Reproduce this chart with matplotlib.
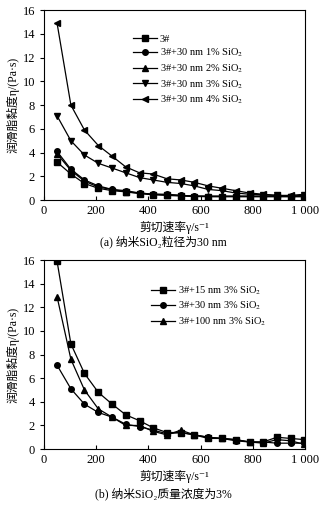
import matplotlib
matplotlib.use('Agg')
import matplotlib.pyplot as plt

plt.rcParams['font.family'] = ['Liberation Serif', 'Noto Sans CJK SC', 'DejaVu Serif']
plt.rcParams['mathtext.fontset'] = 'stix'

# shear rate points (1/s)
rate = [50, 103, 155, 208, 261, 313, 366, 418, 471, 524, 576, 629, 682, 734, 787, 839, 892, 945, 997]

# (a) particle size 30 nm, different contents
base = [3.2, 2.2, 1.4, 1.0, 0.8, 0.7, 0.55, 0.45, 0.4, 0.35, 0.3, 0.3, 0.3, 0.3, 0.3, 0.3, 0.3, 0.3, 0.3]
c1 = [4.1, 2.6, 1.7, 1.2, 0.9, 0.8, 0.6, 0.5, 0.5, 0.4, 0.35, 0.3, 0.3, 0.3, 0.3, 0.3, 0.3, 0.3, 0.3]
c2 = [3.9, 2.5, 1.6, 1.1, 0.9, 0.7, 0.6, 0.5, 0.45, 0.4, 0.35, 0.35, 0.35, 0.35, 0.35, 0.35, 0.35, 0.35, 0.4]
c3 = [7.1, 5.0, 3.8, 3.1, 2.7, 2.3, 1.9, 1.7, 1.5, 1.4, 1.2, 0.9, 0.8, 0.6, 0.5, 0.45, 0.4, 0.3, 0.4]
c4 = [14.9, 8.0, 5.9, 4.6, 3.7, 2.8, 2.3, 2.2, 1.8, 1.7, 1.5, 1.2, 1.0, 0.8, 0.6, 0.5, 0.4, 0.4, 0.5]
labels_a = ['3#', '3#+30 nm 1% SiO$_2$', '3#+30 nm 2% SiO$_2$',
            '3#+30 nm 3% SiO$_2$', '3#+30 nm 4% SiO$_2$']
markers_a = ['s', 'o', '^', 'v', '<']

# (b) content 3%, different sizes
s15 = [15.9, 8.9, 6.4, 4.8, 3.8, 2.9, 2.4, 1.8, 1.4, 1.4, 1.2, 0.9, 0.9, 0.8, 0.6, 0.6, 1.0, 0.9, 0.8]
s30 = [7.1, 5.1, 3.8, 3.1, 2.7, 2.1, 1.9, 1.6, 1.3, 1.4, 1.2, 1.0, 0.9, 0.7, 0.6, 0.6, 0.5, 0.5, 0.5]
s100 = [12.9, 7.6, 5.0, 3.4, 2.7, 2.0, 2.0, 1.5, 1.2, 1.6, 1.2, 1.0, 0.9, 0.8, 0.6, 0.5, 0.8, 0.7, 0.4]
labels_b = ['3#+15 nm 3% SiO$_2$', '3#+30 nm 3% SiO$_2$', '3#+100 nm 3% SiO$_2$']
markers_b = ['s', 'o', '^']

xticks = [0, 200, 400, 600, 800, 1000]
xticklabels = ['0', '200', '400', '600', '800', '1 000']
yticks = [0, 2, 4, 6, 8, 10, 12, 14, 16]

fig = plt.figure(figsize=(3.26, 5.08), dpi=100)
ax1 = fig.add_axes([0.135, 0.606, 0.801, 0.374])
ax2 = fig.add_axes([0.135, 0.116, 0.801, 0.372])

def style(ax):
    ax.set_xlim(0, 1000)
    ax.set_ylim(0, 16)
    ax.set_xticks(xticks)
    ax.set_xticklabels(xticklabels)
    ax.set_yticks(yticks)
    ax.tick_params(axis='x', direction='in', length=3, labelsize=9, top=False)
    ax.tick_params(axis='y', direction='out', length=3, labelsize=9, right=False)
    for sp in ax.spines.values():
        sp.set_linewidth(0.8)
    ax.set_xlabel('剪切速率γ/s⁻¹', fontsize=8.5, labelpad=3)
    ax.set_ylabel('润滑脂黏度η/(Pa·s)', fontsize=8.5, labelpad=2)

for ys, m, lab in zip([base, c1, c2, c3, c4], markers_a, labels_a):
    ax1.plot(rate, ys, color='black', marker=m, markersize=4, linewidth=0.9, label=lab)
style(ax1)
ax1.legend(loc='upper left', bbox_to_anchor=(0.32, 0.9), frameon=False, fontsize=7.5,
           handlelength=2.3, handletextpad=0.3, labelspacing=0.3, borderpad=0)
fig.text(0.5, 0.523, '(a) 纳米SiO₂粒径为30 nm', ha='center', va='center', fontsize=8.5)

for ys, m, lab in zip([s15, s30, s100], markers_b, labels_b):
    ax2.plot(rate, ys, color='black', marker=m, markersize=4, linewidth=0.9, label=lab)
style(ax2)
ax2.legend(loc='upper left', bbox_to_anchor=(0.39, 0.9), frameon=False, fontsize=7.5,
           handlelength=2.3, handletextpad=0.3, labelspacing=0.3, borderpad=0)
fig.text(0.5, 0.027, '(b) 纳米SiO₂质量浓度为3%', ha='center', va='center', fontsize=8.5)

fig.savefig('out.png', dpi=100)
